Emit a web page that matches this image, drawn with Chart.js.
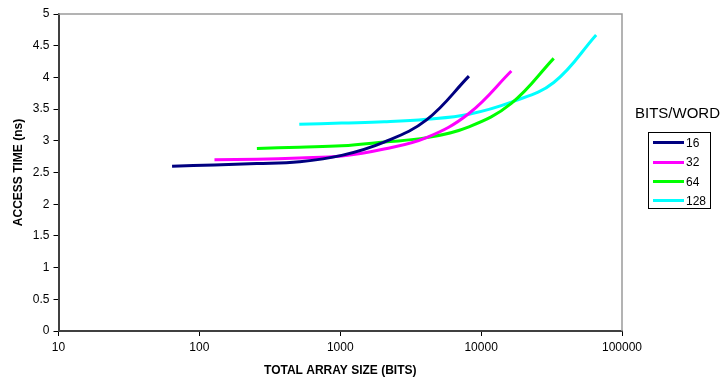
<!DOCTYPE html>
<html>
<head>
<meta charset="utf-8">
<title>Access time vs total array size</title>
<script src="https://cdn.jsdelivr.net/npm/chart.js@4.4.1/dist/chart.umd.min.js"></script>
<style>
    body { margin: 0; background: #fff; font-family: "Liberation Sans", Arial, sans-serif; }
    #wrap { position: relative; width: 724px; height: 379px; }
    #legendTitle { position: absolute; left: 635px; top: 104px; font-size: 15px; color: #000; white-space: nowrap; }
    #legendBox { position: absolute; left: 648px; top: 132px; width: 61px; height: 75px; border: 1px solid #000; box-sizing: content-box; }
    .item { position: absolute; left: 4px; height: 14px; font-size: 12px; line-height: 14px; color: #000; }
    .item span { display: inline-block; width: 31px; height: 3px; vertical-align: middle; margin-right: 2px; position: relative; top: -1px; }
</style>
</head>
<body>
<div id="wrap">
    <canvas id="accessChart"></canvas>
    <div id="legendTitle">BITS/WORD</div>
    <div id="legendBox"></div>
</div>
<script>
// Données
const seriesLabels = ['16', '32', '64', '128'];
const seriesColors = ['#000080', '#ff00ff', '#00ff00', '#00ffff'];

const size16 = [64, 128, 256, 512, 1024, 2048, 4096, 8192];
const time16 = [2.60, 2.62, 2.64, 2.67, 2.77, 2.98, 3.33, 4.02];

const size32 = [128, 256, 512, 1024, 2048, 4096, 8192, 16384];
const time32 = [2.70, 2.71, 2.73, 2.76, 2.87, 3.05, 3.43, 4.10];

const size64 = [256, 512, 1024, 2048, 4096, 8192, 16384, 32768];
const time64 = [2.88, 2.90, 2.92, 2.98, 3.05, 3.22, 3.59, 4.30];

const size128 = [512, 1024, 2048, 4096, 8192, 16384, 32768, 65536];
const time128 = [3.26, 3.28, 3.30, 3.34, 3.42, 3.61, 3.92, 4.67];

const xTicks = [10, 100, 1000, 10000, 100000];

const sizes = [size16, size32, size64, size128];
const times = [time16, time32, time64, time128];

function toPoints(xs, ys) {
    return xs.map((x, i) => ({ x: x, y: ys[i] }));
}

// cadre gris en haut et à droite
const framePlugin = {
    id: 'frame',
    beforeDatasetsDraw(chart) {
        const a = chart.chartArea;
        const ctx = chart.ctx;
        ctx.save();
        ctx.strokeStyle = '#9a9a9a';
        ctx.lineWidth = 1.5;
        ctx.beginPath();
        ctx.moveTo(a.left, a.top);
        ctx.lineTo(a.right, a.top);
        ctx.lineTo(a.right, a.bottom);
        ctx.stroke();
        ctx.restore();
    }
};

function setupChart() {
    const ctx = document.getElementById('accessChart');
    const datasets = seriesLabels.map((label, i) => ({
        label: label,
        data: toPoints(sizes[i], times[i]),
        borderColor: seriesColors[i],
        backgroundColor: seriesColors[i],
        borderWidth: 3,
        pointRadius: 0,
        tension: 0.4,
        fill: false
    }));

    new Chart(ctx, {
        type: 'line',
        data: { datasets: datasets },
        options: {
            responsive: true,
            maintainAspectRatio: false,
            animation: false,
            layout: { padding: { top: 14, right: 102, left: 0, bottom: 0 } },
            plugins: {
                legend: { display: false },
                tooltip: { enabled: false }
            },
            scales: {
                x: {
                    type: 'logarithmic',
                    min: 10,
                    max: 100000,
                    afterBuildTicks: function(scale) {
                        scale.ticks = xTicks.map(v => ({ value: v }));
                    },
                    afterFit: function(scale) { scale.height = 48; },
                    ticks: {
                        autoSkip: false,
                        maxRotation: 0,
                        padding: 4,
                        color: '#000',
                        font: { family: 'Liberation Sans', size: 12 },
                        callback: function(value) { return String(value); }
                    },
                    grid: { drawOnChartArea: false, drawTicks: true, tickLength: 5, color: '#000' },
                    border: { display: true, color: '#404040', width: 2 },
                    title: {
                        display: true,
                        text: 'TOTAL ARRAY SIZE (BITS)',
                        color: '#000',
                        font: { family: 'Liberation Sans', size: 12, weight: 'bold' },
                        padding: { top: 0, bottom: 1 }
                    }
                },
                y: {
                    min: 0,
                    max: 5,
                    afterFit: function(scale) { scale.width = 58.5; },
                    ticks: {
                        stepSize: 0.5,
                        padding: 4,
                        color: '#000',
                        font: { family: 'Liberation Sans', size: 12 },
                        callback: function(value) { return String(value); }
                    },
                    grid: { drawOnChartArea: false, drawTicks: true, tickLength: 5, color: '#000' },
                    border: { display: true, color: '#404040', width: 2 },
                    title: {
                        display: true,
                        text: 'ACCESS TIME (ns)',
                        color: '#000',
                        font: { family: 'Liberation Sans', size: 12, weight: 'bold' },
                        padding: { top: 11, bottom: 0 }
                    }
                }
            }
        },
        plugins: [framePlugin]
    });
}

function buildLegend() {
    const box = document.getElementById('legendBox');
    box.innerHTML = seriesLabels.map((label, i) => `
        <div class="item" style="top:${3 + i * 19.3}px">
            <span style="background:${seriesColors[i]}"></span>${label}
        </div>
    `).join('');
}

setupChart();
buildLegend();
</script>
</body>
</html>
